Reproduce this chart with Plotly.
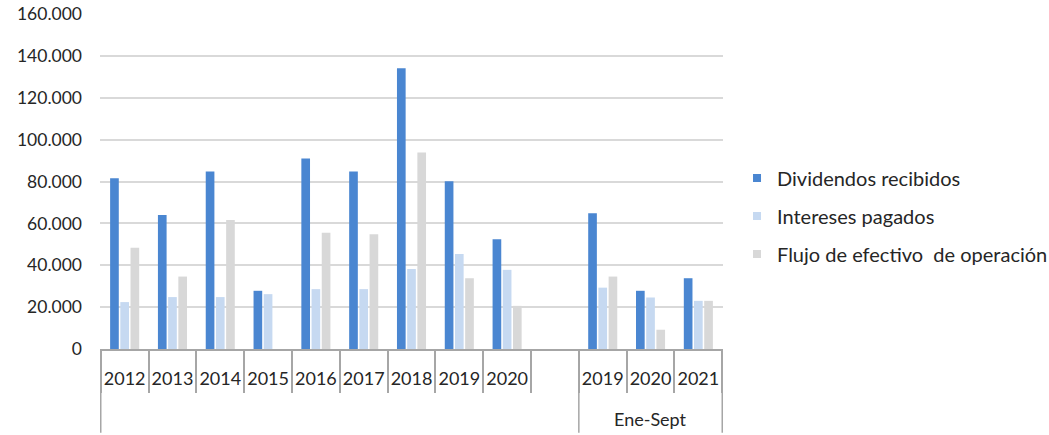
import plotly.graph_objects as go

# Periods: annual totals, a blank spacer, then January-September figures
groups = [""] * 10 + ["Ene-Sept"] * 3
years = ["2012", "2013", "2014", "2015", "2016", "2017", "2018", "2019", "2020", "",
         "2019", "2020", "2021"]

dividendos = [81500, 64000, 84800, 27800, 91000, 84800, 134100, 80100, 52400, None,
              64800, 27800, 33800]
intereses = [22400, 24800, 24800, 26200, 28600, 28600, 38200, 45400, 37800, None,
             29300, 24600, 23000]
flujo = [48400, 34600, 61600, None, 55500, 54800, 93800, 33800, 20600, None,
         34600, 9200, 23000]

series = [
    ("Dividendos recibidos", dividendos, "#4A86D1"),
    ("Intereses pagados", intereses, "#C6D9F1"),
    ("Flujo de efectivo  de operación", flujo, "#D8D8D8"),
]

FONT = "Lato"
TEXT = "#262626"
AXIS = "#A6A6A6"

# unique category keys so repeated years stay separate slots
keys = [f"{g}#{y}#{i}" for i, (g, y) in enumerate(zip(groups, years))]

fig = go.Figure()
for i, (name, vals, color) in enumerate(series):
    fig.add_trace(go.Bar(
        x=keys, y=vals, name=name, showlegend=False,
        marker=dict(color=color, line=dict(width=0)),
        legendgroup=f"g{i}",
    ))
    # small square legend key
    fig.add_trace(go.Scatter(
        x=[None], y=[None], name=name, mode="markers",
        marker=dict(symbol="square", size=8, color=color),
        legendgroup=f"g{i}", showlegend=True,
    ))

# group boundaries: long divider lines through both label rows
bounds = [0] + [i for i in range(1, len(groups)) if groups[i] != groups[i - 1]] + [len(groups)]
LOW = -0.25
for b in bounds:
    fig.add_shape(type="line", xref="x", yref="paper", x0=b - 0.5, x1=b - 0.5,
                  y0=0, y1=LOW, line=dict(color=AXIS, width=1.5))
for s, e in zip(bounds[:-1], bounds[1:]):
    if groups[s]:
        fig.add_annotation(xref="x", yref="paper", x=(s + e - 1) / 2, y=-0.208,
                           text=groups[s], showarrow=False, xanchor="center", yanchor="middle",
                           font=dict(family=FONT, size=18, color=TEXT))

fig.update_layout(
    width=1049, height=435,
    margin=dict(l=100, r=326, t=14, b=86, autoexpand=False),
    paper_bgcolor="white", plot_bgcolor="white",
    barmode="group", bargap=0.36, bargroupgap=0.15,
    separators=",.",
    font=dict(family=FONT, size=17, color=TEXT),
    showlegend=True,
    legend=dict(
        x=1.0225, y=0.397, xanchor="left", yanchor="middle",
        traceorder="grouped", tracegroupgap=9,
        font=dict(family=FONT, size=20, color=TEXT),
        bgcolor="rgba(0,0,0,0)",
    ),
)

fig.update_yaxes(
    range=[0, 160000], tickvals=[0, 20000, 40000, 60000, 80000, 100000, 120000, 140000, 160000],
    tickformat=",d", showgrid=True, gridcolor="#D9D9D9", gridwidth=1.5,
    zeroline=False, showline=False, ticks="", ticklabelstandoff=17,
    tickfont=dict(family=FONT, size=17.5, color=TEXT), automargin=False,
)

fig.update_xaxes(
    type="category", categoryorder="array", categoryarray=keys,
    tickvals=keys, ticktext=years,
    showline=True, linecolor=AXIS, linewidth=1.5,
    ticks="outside", tickson="boundaries", ticklen=42, tickcolor=AXIS, tickwidth=1.5,
    tickangle=0, ticklabelstandoff=13,
    tickfont=dict(family=FONT, size=18, color=TEXT), automargin=False,
    showgrid=False,
)

fig.write_html("out.html")
